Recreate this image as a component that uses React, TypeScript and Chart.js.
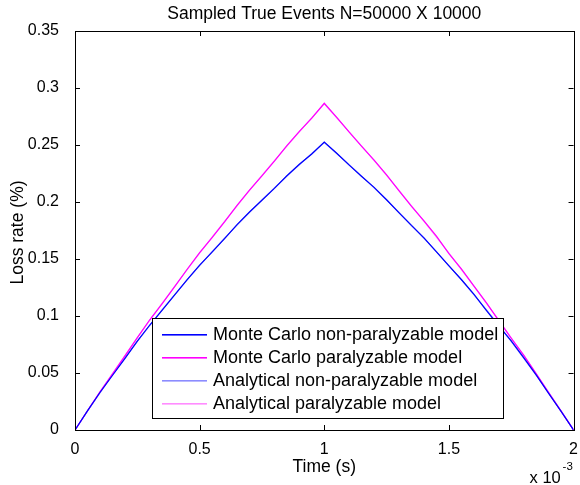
import React, { useEffect, useRef } from "react";
import { Chart, registerables } from "chart.js";

Chart.register(...registerables);

const titleText = "Sampled True Events N=50000 X 10000";
const xLabel = "Time (s)";
const yLabel = "Loss rate (%)";
const seriesNames = [
  "Monte Carlo non-paralyzable model",
  "Monte Carlo paralyzable model",
  "Analytical non-paralyzable model",
  "Analytical paralyzable model",
];
const seriesColors = ["#0000ff", "#ff00ff", "#8c8cff", "#ff8cff"];

const timeMs = [
  0, 0.05, 0.1, 0.15, 0.2, 0.25, 0.3, 0.35, 0.4, 0.45, 0.5, 0.55, 0.6, 0.65, 0.7, 0.75, 0.8, 0.85, 0.9, 0.95, 1.0,
  1.05, 1.1, 1.15, 1.2, 1.25, 1.3, 1.35, 1.4, 1.45, 1.5, 1.55, 1.6, 1.65, 1.7, 1.75, 1.8, 1.85, 1.9, 1.95, 2.0,
];

const mcNonParalyzable = [
  0, 0.0168, 0.0329, 0.0478, 0.0627, 0.0780, 0.0921, 0.1052, 0.1185, 0.1320, 0.1446, 0.1561, 0.1679, 0.1801, 0.1912, 0.2015, 0.2120, 0.2230, 0.2331, 0.2421, 0.2525,
  0.2428, 0.2323, 0.2224, 0.2128, 0.2020, 0.1905, 0.1793, 0.1686, 0.1562, 0.1439, 0.1320, 0.1191, 0.1050, 0.0914, 0.0781, 0.0634, 0.0484, 0.0322, 0.0163, 0,
];
const mcParalyzable = [
  0, 0.0169, 0.0334, 0.0490, 0.0648, 0.0811, 0.0967, 0.1109, 0.1257, 0.1410, 0.1555, 0.1688, 0.1826, 0.1971, 0.2105, 0.2229, 0.2359, 0.2495, 0.2620, 0.2735, 0.2866,
  0.2742, 0.2612, 0.2488, 0.2367, 0.2238, 0.2097, 0.1961, 0.1834, 0.1700, 0.1547, 0.1414, 0.1265, 0.1117, 0.0959, 0.0805, 0.0656, 0.0495, 0.0328, 0.0166, 0,
];
const anNonParalyzable = [
  0, 0.0166, 0.0326, 0.0481, 0.0631, 0.0777, 0.0918, 0.1055, 0.1188, 0.1317, 0.1442, 0.1564, 0.1682, 0.1797, 0.1909, 0.2018, 0.2124, 0.2227, 0.2327, 0.2425, 0.2521,
  0.2425, 0.2327, 0.2227, 0.2124, 0.2018, 0.1909, 0.1797, 0.1682, 0.1564, 0.1442, 0.1317, 0.1188, 0.1055, 0.0918, 0.0777, 0.0631, 0.0481, 0.0326, 0.0166, 0,
];
const anParalyzable = [
  0, 0.0167, 0.0331, 0.0493, 0.0652, 0.0808, 0.0963, 0.1113, 0.1261, 0.1407, 0.1551, 0.1692, 0.1830, 0.1967, 0.2101, 0.2233, 0.2363, 0.2490, 0.2616, 0.2739, 0.2861,
  0.2739, 0.2616, 0.2490, 0.2363, 0.2233, 0.2101, 0.1967, 0.1830, 0.1692, 0.1551, 0.1407, 0.1261, 0.1113, 0.0963, 0.0808, 0.0652, 0.0493, 0.0331, 0.0167, 0,
];

const xTicks = [0, 0.5, 1, 1.5, 2];
const yTicks = [0, 0.05, 0.1, 0.15, 0.2, 0.25, 0.3, 0.35];

const FONT = "'Liberation Sans', Arial, sans-serif";

const toPoints = (ys: number[]) => ys.map((y, i) => ({ x: timeMs[i], y }));

const matlabPlugin = {
  id: "matlabDecor",
  afterDraw(chart: any) {
    const ctx = chart.ctx as CanvasRenderingContext2D;
    const a = chart.chartArea;
    const xs = chart.scales.x;
    const ys = chart.scales.y;
    ctx.save();
    ctx.strokeStyle = "#000";
    ctx.lineWidth = 1;
    ctx.strokeRect(Math.round(a.left) + 0.5, Math.round(a.top) + 0.5, Math.round(a.right - a.left), Math.round(a.bottom - a.top));
    const tl = 5;
    ctx.beginPath();
    xTicks.forEach((v) => {
      const px = Math.round(xs.getPixelForValue(v)) + 0.5;
      ctx.moveTo(px, a.bottom);
      ctx.lineTo(px, a.bottom - tl);
      ctx.moveTo(px, a.top);
      ctx.lineTo(px, a.top + tl);
    });
    yTicks.forEach((v) => {
      const py = Math.round(ys.getPixelForValue(v)) + 0.5;
      ctx.moveTo(a.left, py);
      ctx.lineTo(a.left + tl, py);
      ctx.moveTo(a.right, py);
      ctx.lineTo(a.right - tl, py);
    });
    ctx.stroke();

    ctx.fillStyle = "#000";
    ctx.font = `17.5px ${FONT}`;
    ctx.textAlign = "center";
    ctx.textBaseline = "middle";
    ctx.fillText(titleText, (a.left + a.right) / 2, 14);
    ctx.fillText(xLabel, (a.left + a.right) / 2, a.bottom + 37);
    ctx.save();
    ctx.translate(18, (a.top + a.bottom) / 2 + 2);
    ctx.rotate(-Math.PI / 2);
    ctx.fillText(yLabel, 0, 0);
    ctx.restore();

    ctx.textAlign = "left";
    ctx.textBaseline = "alphabetic";
    ctx.font = `16.5px ${FONT}`;
    ctx.fillText("x 10", a.right - 44, a.bottom + 53);
    ctx.font = `11.5px ${FONT}`;
    ctx.fillText("-3", a.right - 11, a.bottom + 40);

    const lx = a.left + 77;
    const ly = a.top + 287;
    const lw = 351;
    const lh = 100;
    ctx.fillStyle = "#fff";
    ctx.fillRect(lx, ly, lw, lh);
    ctx.strokeStyle = "#000";
    ctx.strokeRect(lx + 0.5, ly + 0.5, lw, lh);
    ctx.font = `18px ${FONT}`;
    ctx.textBaseline = "middle";
    seriesNames.forEach((name, i) => {
      const ry = Math.round(ly + 16 + i * 23);
      ctx.fillStyle = seriesColors[i];
      ctx.fillRect(lx + 10, ry, 45, 1.6);
      ctx.fillStyle = "#000";
      ctx.fillText(name, lx + 61, ry + 1);
    });
    ctx.restore();
  },
};

export default function App() {
  const ref = useRef<HTMLCanvasElement | null>(null);
  useEffect(() => {
    if (!ref.current) return;
    const series = [mcNonParalyzable, mcParalyzable, anNonParalyzable, anParalyzable];
    const chart = new Chart(ref.current, {
      type: "line",
      data: {
        datasets: series.map((s, i) => ({
          label: seriesNames[i],
          data: toPoints(s),
          borderColor: seriesColors[i],
          backgroundColor: seriesColors[i],
          borderWidth: 1.2,
          pointRadius: 0,
          tension: 0,
          fill: false,
        })),
      },
      options: {
        responsive: false,
        animation: false,
        events: [],
        layout: { padding: { left: 0, top: 31, right: 4, bottom: 0 } },
        plugins: { legend: { display: false }, title: { display: false }, tooltip: { enabled: false } },
        scales: {
          x: {
            type: "linear",
            min: 0,
            max: 2,
            afterFit: (s: any) => {
              s.height = 55;
            },
            afterBuildTicks: (s: any) => {
              s.ticks = xTicks.map((v) => ({ value: v }));
            },
            grid: { display: false },
            border: { display: false },
            ticks: {
              padding: 2,
              color: "#000",
              font: { family: FONT, size: 16 },
              maxRotation: 0,
              callback: (v: any) => String(Number(Number(v).toFixed(2))),
            },
          },
          y: {
            type: "linear",
            min: 0,
            max: 0.35,
            afterFit: (s: any) => {
              s.width = 75;
            },
            afterBuildTicks: (s: any) => {
              s.ticks = yTicks.map((v) => ({ value: v }));
            },
            grid: { display: false },
            border: { display: false },
            ticks: {
              padding: 8,
              color: "#000",
              font: { family: FONT, size: 16 },
              callback: (v: any) => String(Number(Number(v).toFixed(2))),
            },
          },
        },
      },
      plugins: [matlabPlugin],
    });
    return () => chart.destroy();
  }, []);
  return (
    <div style={{ position: "fixed", left: 0, top: 0, width: 580, height: 485, background: "#fff" }}>
      <canvas ref={ref} width={580} height={485} style={{ width: 580, height: 485, display: "block" }} />
    </div>
  );
}
